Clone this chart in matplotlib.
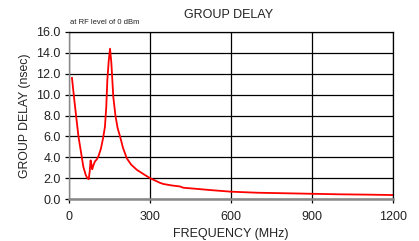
import matplotlib
matplotlib.use("Agg")
import matplotlib.pyplot as plt

freq_mhz = [11, 20, 35, 45, 53, 62, 68, 73, 77, 80, 84, 86, 90, 96, 103, 109, 118, 126, 133, 138, 142, 147, 152, 157, 164, 172, 180, 189, 200, 214, 230, 251, 275, 300, 337, 349, 380, 411, 423, 460, 522, 600, 700, 800, 900, 1000, 1100, 1200]
delay_ns = [11.6, 9.4, 6.0, 4.4, 3.1, 2.3, 2.0, 1.9, 2.7, 3.7, 3.2, 2.85, 3.2, 3.6, 3.8, 4.1, 4.8, 5.8, 6.9, 8.8, 11.4, 13.2, 14.4, 13.0, 9.8, 8.0, 6.8, 6.0, 4.9, 3.9, 3.3, 2.8, 2.4, 2.0, 1.55, 1.44, 1.3, 1.2, 1.08, 1.0, 0.86, 0.7, 0.6, 0.55, 0.5, 0.45, 0.42, 0.38]

x_ticks = [0, 300, 600, 900, 1200]
y_ticks = [0, 2, 4, 6, 8, 10, 12, 14, 16]

plt.rcParams['font.family'] = ['Liberation Sans', 'DejaVu Sans']
txt = '#222222'

fig = plt.figure(figsize=(4.19, 2.41), dpi=100)
ax = fig.add_axes([69/419, 1-199/241, (393-69)/419, (199-32)/241])

ax.plot(freq_mhz, delay_ns, color='#ff0000', lw=1.3)
ax.set_xlim(0, 1200)
ax.set_ylim(0, 16)
ax.set_xticks(x_ticks)
ax.set_xticklabels([str(v) for v in x_ticks])
ax.set_yticks(y_ticks)
ax.set_yticklabels([f"{v:.1f}" for v in y_ticks])
ax.grid(True, color='black', lw=0.9)
ax.set_axisbelow(True)
for s in ['top', 'right']:
    ax.spines[s].set_color('black')
    ax.spines[s].set_linewidth(0.9)
ax.spines['left'].set_color('#888888')
ax.spines['left'].set_linewidth(1.0)
ax.spines['bottom'].set_color('#888888')
ax.spines['bottom'].set_linewidth(1.8)
ax.tick_params(axis='both', direction='out', length=3, width=0.9, color='black',
               labelsize=9, labelcolor=txt)
ax.tick_params(axis='y', pad=3)
ax.tick_params(axis='x', pad=6)

ax.set_xlabel("FREQUENCY (MHz)", fontsize=9, labelpad=3, color=txt)
ax.set_ylabel("GROUP DELAY (nsec)", fontsize=8.8, labelpad=4, color=txt)
fig.text(229/419, 1-15/241, "GROUP DELAY", ha='center', va='center', fontsize=9, color=txt)
fig.text(70/419, 1-23/241, "at RF level of 0 dBm", ha='left', va='center', fontsize=5.5, color=txt)

fig.savefig("out.png", dpi=100)
